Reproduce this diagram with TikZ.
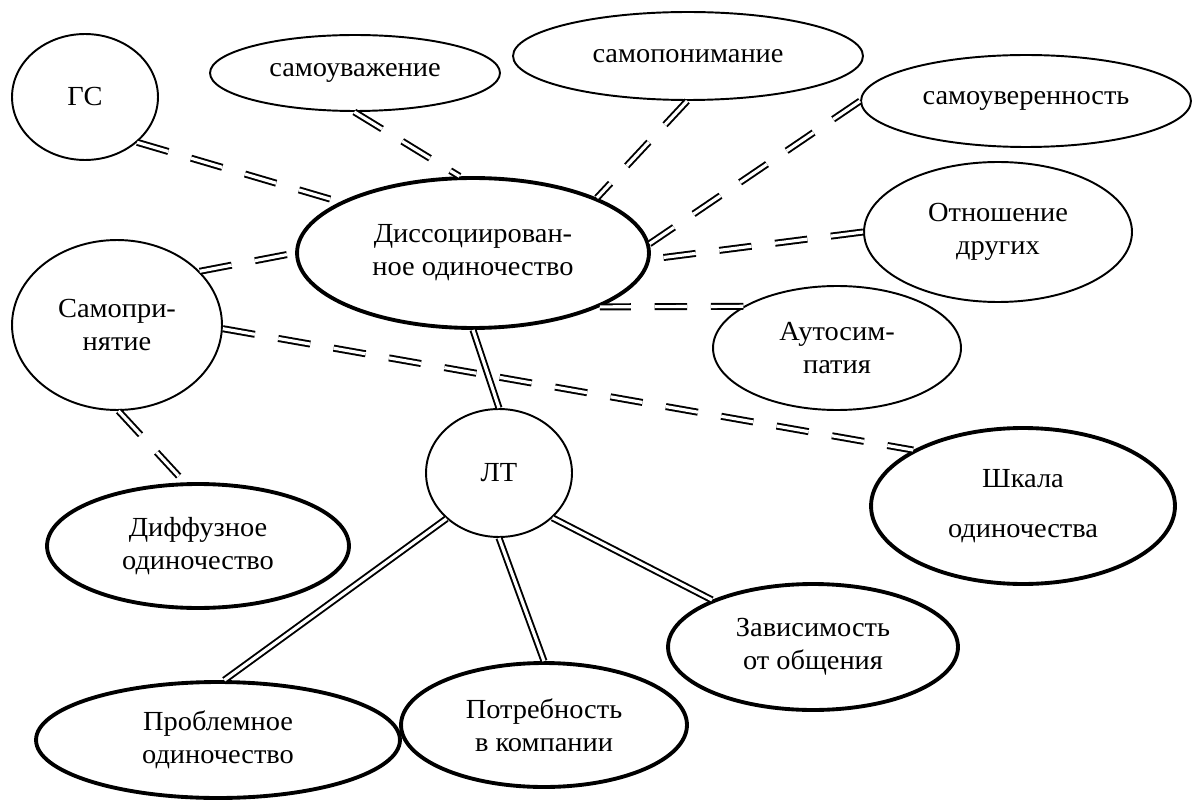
\documentclass[tikz,border=0pt]{standalone}
\usepackage{fontspec}
\setmainfont{Liberation Serif}[FakeStretch=1.03]
\usetikzlibrary{shapes.geometric}
\tikzset{
  oval/.style={ellipse, draw, inner sep=0pt, align=center,
    font=\fontsize{15.7}{18.8}\selectfont},
  lite/.style={oval, line width=1.1pt},
  heavy/.style={oval, line width=2.2pt},
  link/.style={draw, double, line width=1.1pt, double distance=1.8pt},
  dlink/.style={link, dash pattern=on 18.5pt off 13.5pt}
}

\begin{document}
\begin{tikzpicture}[x=0.02cm, y=-0.02cm]
    \useasboundingbox (0,0) rectangle (1192,800);

    \node[lite, minimum width=2.92cm, minimum height=2.52cm]
      (GS) at (85,97) {ГС};
    \node[lite, minimum width=5.8cm, minimum height=1.52cm]
      (SelfEsteem) at (355,73) {самоуважение};
    \node[lite, minimum width=7cm, minimum height=1.76cm]
      (SelfUnderst) at (688,56) {самопонимание};
    \node[lite, minimum width=6.6cm, minimum height=1.84cm]
      (SelfConf) at (1026,101) {самоуверенность};
    \node[heavy, minimum width=7.04cm, minimum height=3cm]
      (Dissoc) at (473,253) {Диссоциирован-\\ное одиночество};
    \node[lite, minimum width=5.36cm, minimum height=2.8cm]
      (Others) at (998,232) {Отношение\\других};
    \node[lite, minimum width=4.96cm, minimum height=2.48cm]
      (AutoSym) at (837,348) {Аутосим-\\патия};
    \node[lite, minimum width=4.2cm, minimum height=3.4cm]
      (SelfAccept) at (117,325) {Самопри-\\нятие};
    \node[lite, minimum width=2.92cm, minimum height=2.56cm]
      (LT) at (499,473) {ЛТ};
    \node[heavy, minimum width=6.08cm, minimum height=3.12cm]
      (Scale) at (1023,506) {Шкала\\[10pt]одиночества};
    \node[heavy, minimum width=6.04cm, minimum height=2.48cm]
      (Diffuse) at (198,546) {Диффузное\\одиночество};
    \node[heavy, minimum width=7.28cm, minimum height=2.32cm]
      (Problem) at (218,740) {Проблемное\\одиночество};
    \node[heavy, minimum width=5.72cm, minimum height=2.48cm]
      (Need) at (544,725) {Потребность\\в компании};
    \node[heavy, minimum width=5.8cm, minimum height=2.52cm]
      (Depend) at (813,647) {Зависимость\\от общения};

    \path
      (GS.-41) edge[dlink] (Dissoc.159)
      (SelfEsteem.-91) edge[dlink] (Dissoc.100)
      (SelfUnderst.-91) edge[dlink] (Dissoc.24)
      (SelfConf.180) edge[dlink] (Dissoc.3)
      (Others.180) edge[dlink] (Dissoc.-2)
      (AutoSym.156) edge[dlink] (Dissoc.-23)
      (SelfAccept.33) edge[dlink] (Dissoc.180)
      (SelfAccept.-2) edge[dlink] (Scale.153)
      (SelfAccept.-89) edge[dlink] (Diffuse.102);

    \path
      (Dissoc.-90) edge[link] (LT.90)
      (LT.-139) edge[link] (Problem.84)
      (LT.-90) edge[link] (Need.90)
      (LT.-40) edge[link] (Depend.155);

  \end{tikzpicture}
\end{document}
